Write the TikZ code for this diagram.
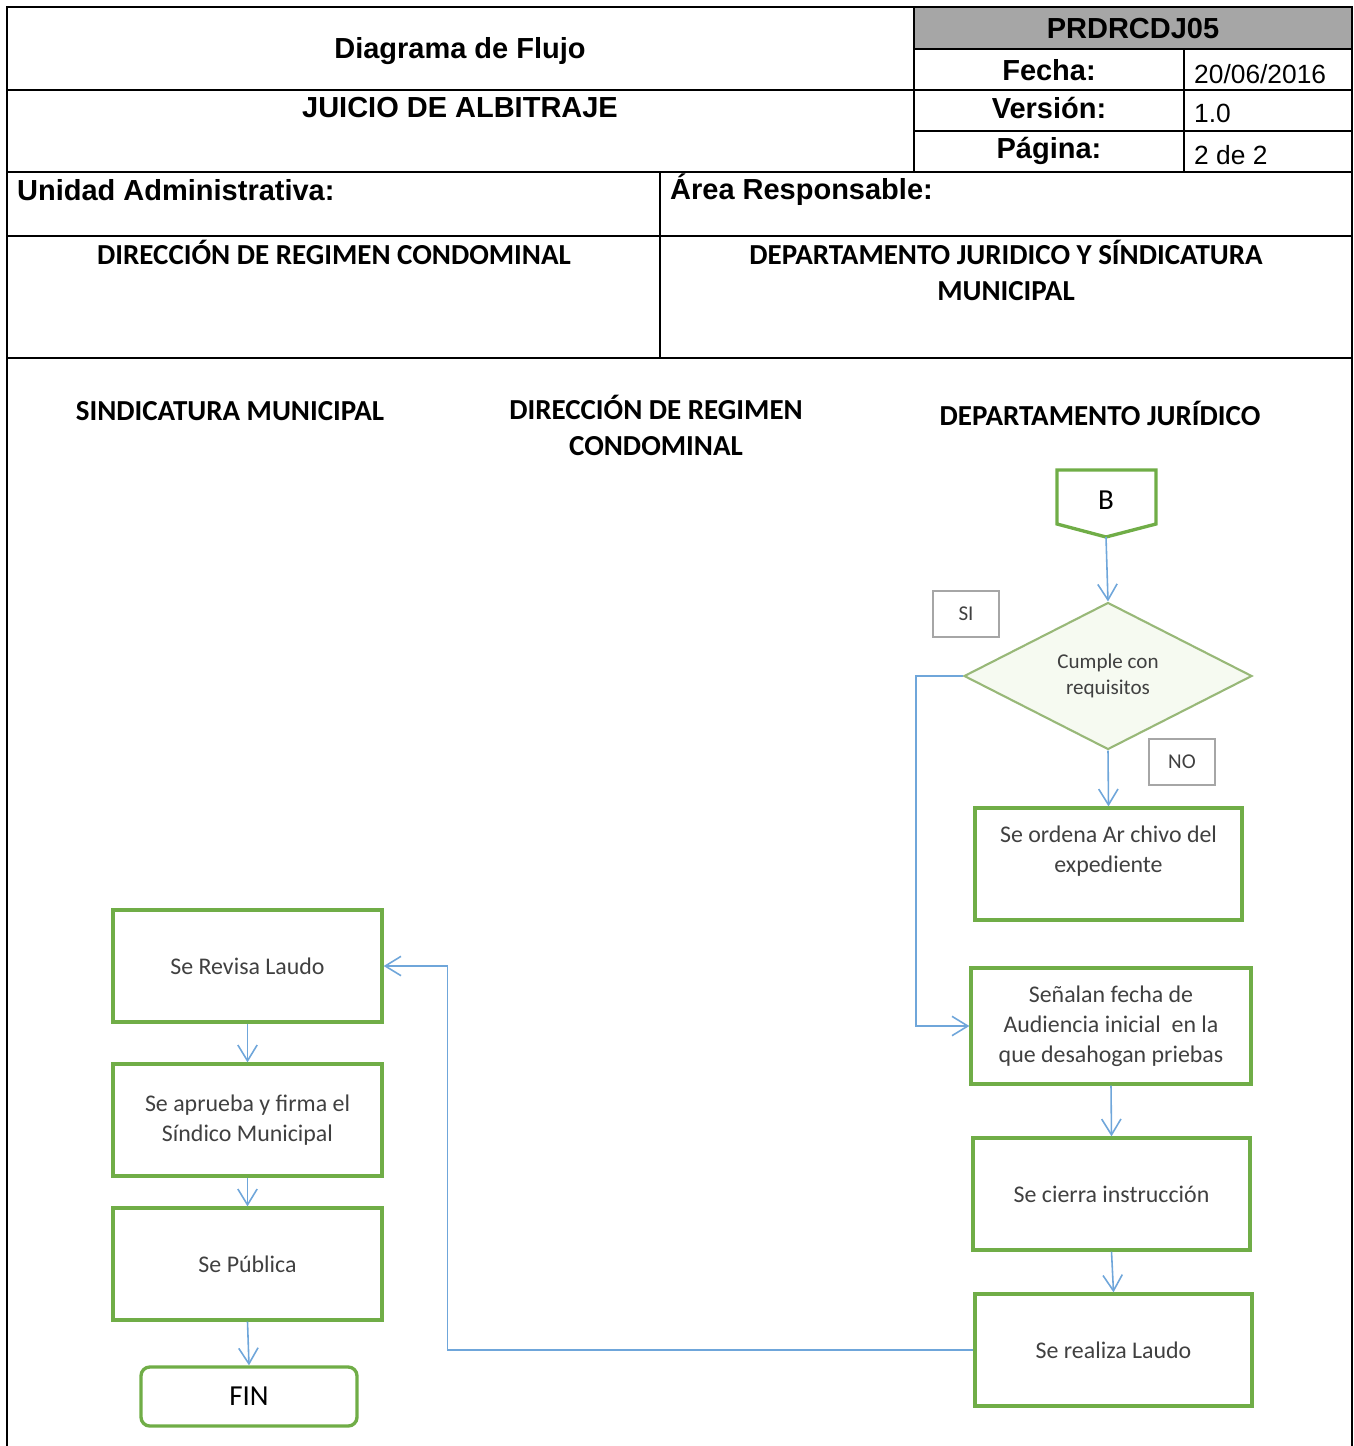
\documentclass[tikz,border=0pt]{standalone}
\usepackage{fontspec}
\setmainfont{Liberation Sans}
\newfontfamily\calibri{Carlito}
\usetikzlibrary{arrows.meta,shapes.geometric}

\definecolor{boxgreen}{HTML}{70AD47}
\definecolor{diagreen}{HTML}{98B878}
\definecolor{diafill}{HTML}{F6FAF1}
\definecolor{arrowblue}{HTML}{6FA6DA}
\definecolor{taggray}{HTML}{A6A6A6}
\definecolor{txtgray}{HTML}{404040}
\definecolor{headgray}{HTML}{A6A6A6}

\def\pxl{0.02cm} % one pixel of the page

\begin{document}
\begin{tikzpicture}[x=0.02cm,y=-0.02cm,
	box/.style={draw=boxgreen,line width=1.9pt,minimum width=277*\pxl,minimum height=112*\pxl,
		inner sep=0pt,align=center,text=txtgray,font=\calibri\fontsize{13.6}{17}\selectfont},
	decision/.style={diamond,draw=diagreen,fill=diafill,line width=1.2pt,minimum width=288*\pxl,
		minimum height=147*\pxl,inner sep=0pt,align=center,text=txtgray,font=\calibri\fontsize{12}{14.7}\selectfont},
	tag/.style={draw=taggray,line width=1pt,minimum width=66*\pxl,minimum height=46*\pxl,
		inner sep=0pt,text=txtgray,font=\calibri\fontsize{12}{14}\selectfont},
	flow/.style={draw=arrowblue,line width=0.9pt,-{Straight Barb[length=9pt,width=11pt]}},
	head/.style={font=\bfseries\fontsize{16.5}{20}\selectfont},
	val/.style={anchor=west,font=\fontsize{15}{18}\selectfont},
	lane/.style={align=center,font=\calibri\bfseries\fontsize{16.5}{20.4}\selectfont}]
	\useasboundingbox (0,0) rectangle (1353,1446);
	
	% header table
	\fill[headgray] (914,7) rectangle (1352,49);
	\begin{scope}[line width=1.2pt]
		\draw (7,1446) -- (7,7) -- (1352,7) -- (1352,1446);
		\draw (7,90) -- (914,90);
		\draw (914,7) -- (914,172);
		\draw (914,49) -- (1352,49);
		\draw (914,90) -- (1352,90);
		\draw (914,131) -- (1352,131);
		\draw (1184,49) -- (1184,172);
		\draw (7,172) -- (1352,172);
		\draw (7,236) -- (1352,236);
		\draw (7,358) -- (1352,358);
		\draw (660,172) -- (660,358);
	\end{scope}
	\node[head] (title) at (460,51) {Diagrama de Flujo};
	\node[head] (proc) at (460,108) {JUICIO DE ALBITRAJE};
	\node[head] (code) at (1133,29) {PRDRCDJ05};
	\node[head] (fecha) at (1049,70) {Fecha:};
	\node[head] (version) at (1049,108) {Versión:};
	\node[head] (pagina) at (1049,151) {Página:};
	\node[val] (fechaval) at (1188,74) {20/06/2016};
	\node[val] (versionval) at (1188,113) {1.0};
	\node[val] (paginaval) at (1188,155) {2 de 2};
	\node[head,anchor=west] (unidad) at (11,190) {Unidad Administrativa:};
	\node[head,anchor=west] (area) at (664,190) {Área Responsable:};
	\node[lane] (unidadval) at (334,252) {DIRECCIÓN DE REGIMEN CONDOMINAL};
	\node[lane,anchor=north] (areaval) at (1006,234) {DEPARTAMENTO JURIDICO Y SÍNDICATURA\\MUNICIPAL};
	
	% lanes
	\node[lane] (sind) at (230,411) {SINDICATURA MUNICIPAL};
	\node[lane,anchor=north] (direc) at (656,389) {DIRECCIÓN DE REGIMEN\\CONDOMINAL};
	\node[lane] (depto) at (1100,413) {DEPARTAMENTO JURÍDICO};
	
	% connector B
	\draw[boxgreen,line width=1.9pt] (1057,470) -- (1156,470) -- (1156,524) -- (1106,537) -- (1057,524) -- cycle;
	\node[font=\calibri\fontsize{16.5}{20}\selectfont] (B) at (1106,500) {B};
	\coordinate (Btip) at (1106,537);
	
	\node[decision] (dec) at (1108,676) {Cumple con\\requisitos};
	\node[tag] (si) at (966,614) {SI};
	\node[tag] (no) at (1182,762) {NO};
	
	\node[box,minimum width=267*\pxl] (archivo) at (1108.5,864) {Se ordena Ar chivo del\\expediente\\\mbox{}};
	\node[box,minimum width=280*\pxl,minimum height=116*\pxl] (audiencia) at (1111,1026) {Señalan fecha de\\Audiencia inicial \ en la\\que desahogan priebas};
	\node[box] (cierra) at (1111.5,1194) {Se cierra instrucción};
	\node[box] (laudo) at (1113.5,1350) {Se realiza Laudo};
	
	\node[box,minimum width=269*\pxl] (revisa) at (247.5,966) {Se Revisa Laudo};
	\node[box,minimum width=269*\pxl] (firma) at (247.5,1120) {Se aprueba y firma el\\Síndico Municipal};
	\node[box,minimum width=269*\pxl] (publica) at (247.5,1264) {Se Pública};
	\node[box,rounded corners=5pt,minimum width=216*\pxl,minimum height=59*\pxl,text=black,
		font=\calibri\fontsize{16.5}{20}\selectfont] (fin) at (249,1396.5) {FIN};
	
	% arrows
	\draw[flow] (Btip) -- (dec.north);
	\draw[flow] (dec.south) -- (archivo.north);
	\draw[flow] (dec.west) -- ++(-47,0) |- (audiencia.west);
	\draw[flow] (audiencia.south) -- (cierra.north);
	\draw[flow] (cierra.south) -- (laudo.north);
	\draw[flow] (laudo.west) -- ++(-526,0) |- (revisa.east);
	\draw[flow] (revisa.south) -- (firma.north);
	\draw[flow] (firma.south) -- (publica.north);
	\draw[flow] (publica.south) -- (fin.north);
\end{tikzpicture}
\end{document}
